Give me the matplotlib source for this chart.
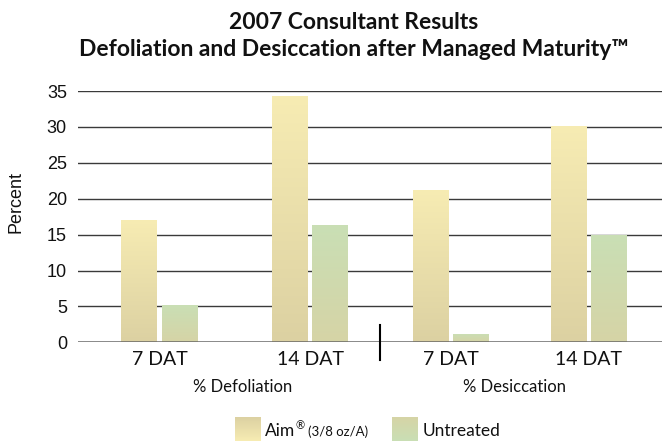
import numpy as np
import matplotlib
matplotlib.use("Agg")
import matplotlib.pyplot as plt
from matplotlib.colors import LinearSegmentedColormap
from matplotlib.patches import Rectangle

# ---- data ----
categories = ["7 DAT", "14 DAT", "7 DAT", "14 DAT"]
groups = ["% Defoliation", "% Desiccation"]
aim_values = [17.0, 34.3, 21.2, 30.1]
untreated_values = [5.2, 16.3, 1.2, 15.0]
yticks = [0, 5, 10, 15, 20, 25, 30, 35]
series_names = ["Aim", "Untreated"]

# ---- layout / style ----
W, H = 662, 441
positions = np.array([0.0, 1.038, 2.010, 2.962])
bar_w = 0.248
offset = 0.140
aim_cmap = LinearSegmentedColormap.from_list("aim", ["#dcd1a2", "#f7ecb3"])
unt_cmap = LinearSegmentedColormap.from_list("unt", ["#d6d4a6", "#c9dfb5"])
label_font = "Lato"
num_font = "Liberation Sans"

fig = plt.figure(figsize=(W / 100, H / 100), dpi=100)
fig.patch.set_facecolor("white")

ax_left, ax_right, ax_top, ax_bot = 78, 662, 91, 342.3
ax = fig.add_axes([ax_left / W, 1 - ax_bot / H, (ax_right - ax_left) / W, (ax_bot - ax_top) / H])
ax.set_facecolor("none")
unit = 145.0


def gradient_bars(bars, cmap):
    grad = np.linspace(0, 1, 256).reshape(-1, 1)
    for b in bars:
        x0, y0 = b.get_x(), b.get_y()
        w, h = b.get_width(), b.get_height()
        b.set_facecolor("none")
        im = ax.imshow(grad, cmap=cmap, origin="lower", aspect="auto",
                       extent=(x0, x0 + w, y0, y0 + h), zorder=3)
        im.set_clip_path(b)


aim_bars = ax.bar(positions - offset, aim_values, width=bar_w, linewidth=0, zorder=3)
unt_bars = ax.bar(positions + offset, untreated_values, width=bar_w, linewidth=0, zorder=3)
gradient_bars(aim_bars, aim_cmap)
gradient_bars(unt_bars, unt_cmap)

ax.set_xlim(-(159.5 - ax_left) / unit, (ax_right - 159.5) / unit)
ax.set_ylim(0, 35)

for s in ax.spines.values():
    s.set_visible(False)
for t in yticks[1:]:
    ax.axhline(t, color="#3a3a3a", lw=1.0, zorder=1)
ax.axhline(0, color="#666666", lw=1.8, zorder=4)

ax.set_yticks(yticks)
ax.set_yticklabels([str(t) for t in yticks], fontfamily=num_font, fontsize=13, color="#111111")
ax.tick_params(axis="y", length=0, pad=8)
ax.set_xticks(positions)
ax.set_xticklabels(categories, fontfamily=label_font, fontsize=14, color="#111111")
ax.tick_params(axis="x", length=0, pad=6)

# divider between the two groups
div_x = (positions[1] + positions[2]) / 2
ax.plot([div_x, div_x], [-2.4, 2.4], color="black", lw=1.5, clip_on=False, zorder=5)

# group labels
group_shift = [6, -4]  # points
for gi, g in enumerate(groups):
    mid = (positions[2 * gi] + positions[2 * gi + 1]) / 2
    ax.annotate(g, xy=(mid, 0), xycoords=("data", "axes fraction"),
                xytext=(group_shift[gi], -32), textcoords="offset points",
                ha="center", va="center", fontfamily=label_font, fontsize=12, color="#111111")

fig.text(16 / W, 1 - 202 / H, "Percent", rotation=90, ha="center", va="center",
         fontfamily=num_font, fontsize=13, color="#111111")

# title
fig.text(354 / W, 1 - 22.5 / H, "2007 Consultant Results", ha="center", va="center",
         fontfamily=label_font, fontweight="bold", fontsize=16.5, color="#111111")
fig.text(354 / W, 1 - 50 / H, "Defoliation and Desiccation after Managed Maturity\u2122",
         ha="center", va="center", fontfamily=label_font, fontweight="bold", fontsize=16.5,
         color="#111111")

# legend (manual)
lax = fig.add_axes([0, 0, 1, 1])
lax.axis("off")
grad = np.linspace(0, 1, 256).reshape(-1, 1)
for (x0, cmap) in [(235, aim_cmap), (392, unt_cmap)]:
    r = Rectangle((x0, 417), 26, 24, facecolor="none", edgecolor="none")
    lax.add_patch(r)
    im = lax.imshow(grad, cmap=cmap, origin="upper", aspect="auto",
                    extent=(x0, x0 + 26, 441, 417))
    im.set_clip_path(r)

lax.set_xlim(0, W)
lax.set_ylim(H, 0)
fig.canvas.draw()
renderer = fig.canvas.get_renderer()
t1 = lax.text(265, 436.5, series_names[0], fontfamily=label_font, fontsize=12.5,
              color="#111111", va="baseline", ha="left")
fig.canvas.draw()
bb = t1.get_window_extent(renderer)
t2 = lax.text(bb.x1 + 0.5, 429, "\u00ae", fontfamily=label_font, fontsize=8,
              color="#111111", va="baseline", ha="left")
fig.canvas.draw()
bb2 = t2.get_window_extent(renderer)
lax.text(bb2.x1 + 3, 436.5, "(3/8 oz/A)", fontfamily=label_font, fontsize=9.5,
         color="#111111", va="baseline", ha="left")
lax.text(423, 436.5, series_names[1], fontfamily=label_font, fontsize=12.5,
         color="#111111", va="baseline", ha="left")

fig.savefig("out.png", dpi=100, facecolor="white")
